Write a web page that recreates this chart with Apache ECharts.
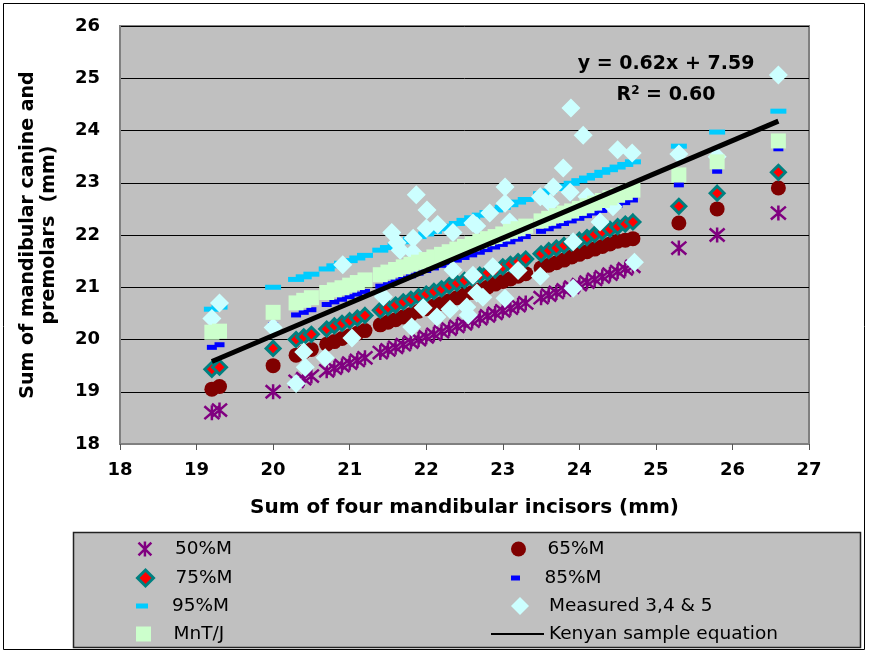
<!DOCTYPE html>
<html>
<head>
<meta charset="utf-8">
<script src="https://cdn.jsdelivr.net/npm/echarts@6/dist/echarts.min.js"></script>
<style>
html, body { margin: 0; padding: 0; background: #fff; }
#chart { width: 869px; height: 653px; }
</style>
</head>
<body>
<div id="chart"></div>
<script>
// sum of four mandibular incisors (mm), shared by the predicted series
const incisors = [19.2, 19.3, 20.0, 20.3, 20.4, 20.5, 20.7, 20.8, 20.9, 21.0, 21.1, 21.2, 21.4, 21.5, 21.6, 21.7,
    21.8, 21.9, 22.0, 22.1, 22.2, 22.3, 22.4, 22.5, 22.6, 22.7, 22.8, 22.9, 23.0, 23.1, 23.2, 23.3, 23.5, 23.6,
    23.7, 23.8, 23.9, 24.0, 24.1, 24.2, 24.3, 24.4, 24.5, 24.6, 24.7, 25.3, 25.8, 26.6]

const m50 = [18.60, 18.65, 19.00, 19.20, 19.25, 19.30, 19.40, 19.45, 19.50, 19.55, 19.60, 19.65, 19.75, 19.80, 19.85, 19.90,
    19.95, 20.00, 20.05, 20.10, 20.15, 20.20, 20.25, 20.30, 20.35, 20.40, 20.45, 20.50, 20.55, 20.60, 20.65, 20.70, 20.80, 20.85,
    20.90, 20.95, 21.00, 21.05, 21.10, 21.15, 21.20, 21.25, 21.30, 21.35, 21.40, 21.75, 22.00, 22.42]
const m65 = [19.05, 19.10, 19.50, 19.70, 19.76, 19.81, 19.91, 19.96, 20.02, 20.07, 20.12, 20.17, 20.28, 20.33, 20.38, 20.43,
    20.48, 20.54, 20.59, 20.64, 20.69, 20.74, 20.80, 20.85, 20.90, 20.95, 21.00, 21.06, 21.11, 21.16, 21.21, 21.26, 21.37, 21.42,
    21.47, 21.52, 21.58, 21.63, 21.68, 21.73, 21.78, 21.83, 21.88, 21.90, 21.93, 22.23, 22.50, 22.90]
const m75 = [19.43, 19.47, 19.83, 20.00, 20.05, 20.10, 20.20, 20.26, 20.31, 20.36, 20.41, 20.46, 20.56, 20.61, 20.66, 20.72,
    20.77, 20.82, 20.87, 20.92, 20.97, 21.03, 21.08, 21.13, 21.18, 21.23, 21.28, 21.33, 21.39, 21.44, 21.49, 21.54, 21.64, 21.70,
    21.75, 21.80, 21.85, 21.90, 21.95, 22.01, 22.06, 22.11, 22.16, 22.21, 22.25, 22.55, 22.80, 23.20]
const m85 = [19.85, 19.90, 20.28, 20.47, 20.52, 20.57, 20.67, 20.72, 20.77, 20.82, 20.87, 20.92, 21.02, 21.07, 21.12, 21.17,
    21.22, 21.27, 21.32, 21.37, 21.42, 21.47, 21.52, 21.57, 21.62, 21.67, 21.72, 21.77, 21.82, 21.87, 21.92, 21.97, 22.07, 22.12,
    22.17, 22.22, 22.27, 22.32, 22.37, 22.42, 22.47, 22.52, 22.57, 22.62, 22.67, 22.96, 23.22, 23.65]
const m95 = [20.58, 20.62, 21.00, 21.15, 21.20, 21.25, 21.35, 21.41, 21.46, 21.51, 21.56, 21.61, 21.71, 21.76, 21.81, 21.87,
    21.92, 21.97, 22.02, 22.07, 22.12, 22.17, 22.22, 22.28, 22.33, 22.38, 22.43, 22.48, 22.53, 22.58, 22.63, 22.68, 22.79, 22.84,
    22.89, 22.94, 22.99, 23.04, 23.09, 23.14, 23.20, 23.25, 23.30, 23.35, 23.40, 23.70, 23.97, 24.37]
const mntj = [20.14, 20.16, 20.52, 20.70, 20.75, 20.80, 20.90, 20.95, 20.99, 21.04, 21.09, 21.14, 21.24, 21.29, 21.34, 21.39,
    21.44, 21.48, 21.53, 21.58, 21.63, 21.68, 21.73, 21.78, 21.83, 21.88, 21.93, 21.97, 22.02, 22.07, 22.12, 22.17, 22.27, 22.32,
    22.37, 22.42, 22.46, 22.51, 22.56, 22.61, 22.66, 22.71, 22.76, 22.81, 22.86, 23.15, 23.40, 23.80]

// measured canine + premolars
const measuredX = [19.2, 19.3, 20.0, 20.3, 20.4, 20.42, 20.68, 21.03, 20.91, 21.55, 21.62, 21.66, 21.44, 21.87, 22.01, 22.0,
    22.15, 22.35, 21.83, 21.83, 22.61, 22.35, 21.96, 22.14, 22.31, 21.81, 22.53, 22.55, 22.66, 22.74, 23.03, 23.49, 23.92,
    23.2, 24.72, 22.66, 23.79, 23.89, 24.05, 24.5, 24.69, 23.03, 23.03, 22.83, 23.66, 23.88, 23.49, 23.62, 24.44, 24.1, 24.27,
    23.09, 23.92, 22.61, 22.87, 25.3, 25.8, 26.6]
const measuredY = [20.40, 20.70, 20.23, 19.16, 19.76, 19.47, 19.65, 20.03, 21.43, 22.05, 21.85, 21.71, 20.82, 22.77, 22.48, 22.13,
    22.20, 22.05, 21.67, 21.94, 22.23, 21.33, 20.61, 20.43, 20.58, 20.24, 20.62, 20.47, 20.89, 20.81, 20.79, 21.21, 20.98,
    21.32, 21.48, 22.17, 23.28, 24.43, 23.91, 23.63, 23.57, 22.92, 22.61, 22.42, 22.92, 22.82, 22.73, 22.61, 22.54, 22.73, 22.25,
    22.25, 21.87, 21.23, 21.39, 23.55, 23.50, 25.06]

// Kenyan sample equation end points
const trendX = [19.2, 26.6]
const trendY = [19.58, 24.18]

const xTicks = { min: 18, max: 27, step: 1 }
const yTicks = { min: 18, max: 26, step: 1 }

const pairs = (xs, ys) => xs.map((x, i) => [x, ys[i]])

const FONT = "DejaVu Sans"
const asterisk = "path://M1,1L13,13M13,1L1,13M7,0L7,14"
const diamondPath = "path://M5,0L10,5L5,10L0,5Z"
const squarePath = "path://M0,0L10,0L10,10L0,10Z"

const chart = echarts.init(document.getElementById("chart"), null, { renderer: "canvas" })

function legendAt(item, left, rowY, w, h) {
    return {
        data: [item],
        left: left,
        top: rowY - 10,
        padding: 0,
        itemWidth: w,
        itemHeight: h,
        selectedMode: false,
        textStyle: { fontFamily: FONT, fontSize: 18.5, color: "#000", lineHeight: 20 },
    }
}

const rows = [549, 578, 606, 634]

chart.setOption({
    animation: false,
    textStyle: { fontFamily: FONT },
    grid: {
        left: 120, top: 26, width: 689, height: 418,
        show: true, backgroundColor: "#c0c0c0", borderColor: "#808080", borderWidth: 2,
        containLabel: false, outerBoundsMode: "none",
    },
    xAxis: {
        type: "value",
        min: xTicks.min, max: xTicks.max, interval: xTicks.step,
        name: "Sum of four mandibular incisors (mm)",
        nameLocation: "middle", nameGap: 54,
        nameTextStyle: { fontFamily: FONT, fontWeight: "bold", fontSize: 20, color: "#000" },
        axisLine: { show: true, onZero: false, lineStyle: { color: "#808080", width: 2 } },
        axisTick: { show: true, length: 6, lineStyle: { color: "#555", width: 1 } },
        axisLabel: { margin: 17, fontFamily: FONT, fontWeight: "bold", fontSize: 18, color: "#000" },
        splitLine: { show: false },
    },
    yAxis: {
        type: "value",
        min: yTicks.min, max: yTicks.max, interval: yTicks.step,
        name: "Sum of mandibular canine and\npremolars  (mm)",
        nameLocation: "middle", nameGap: 60, nameRotate: 90,
        nameTextStyle: { fontFamily: FONT, fontWeight: "bold", fontSize: 19, color: "#000", lineHeight: 21 },
        axisLine: { show: true, onZero: false, lineStyle: { color: "#808080", width: 2 } },
        axisTick: { show: false },
        axisLabel: { margin: 20, fontFamily: FONT, fontWeight: "bold", fontSize: 18, color: "#000" },
        splitLine: { show: true, lineStyle: { color: "#000", width: 1 } },
    },
    legend: [
        legendAt({ name: "50%M", icon: asterisk, itemStyle: { borderWidth: 2.5 } }, 136, rows[0], 50, 15),
        legendAt({ name: "75%M", icon: diamondPath, itemStyle: { borderWidth: 3 } }, 136, rows[1], 50, 16),
        legendAt({ name: "95%M", icon: "path://M0,0L12,0L12,5L0,5Z" }, 136, rows[2], 50, 5),
        legendAt({ name: "MnT/J", icon: squarePath }, 136, rows[3], 50, 15),
        legendAt({ name: "65%M", icon: "circle" }, 511, rows[0], 48, 15),
        legendAt({ name: "85%M", icon: "path://M0,0L9,0L9,5L0,5Z" }, 511, rows[1], 48, 5),
        legendAt({ name: "Measured 3,4 & 5", icon: diamondPath }, 511, rows[2], 48, 18),
        legendAt({ name: "Kenyan sample equation", itemStyle: { color: "rgba(0,0,0,0)", borderWidth: 0 } }, 490, rows[3], 53, 14),
    ],
    graphic: [
        { type: "rect", z: -10, shape: { x: 3.5, y: 3.5, width: 861, height: 646 }, style: { fill: "#fff", stroke: "#000", lineWidth: 1 } },
        { type: "rect", z: 0, shape: { x: 73.5, y: 532.5, width: 787, height: 115 }, style: { fill: "#c0c0c0", stroke: "#222", lineWidth: 1.5 } },
        {
            type: "text", z: 100, x: 666, y: 64,
            style: { text: "y = 0.62x + 7.59", fontFamily: FONT, fontWeight: "bold", fontSize: 19, fill: "#000", align: "center", verticalAlign: "middle" },
        },
        {
            type: "text", z: 100, x: 666, y: 95,
            style: {
                text: "{a|R}{s|2}{a| = 0.60}", align: "center", verticalAlign: "middle",
                rich: {
                    a: { fontFamily: FONT, fontWeight: "bold", fontSize: 19, fill: "#000" },
                    s: { fontFamily: FONT, fontWeight: "bold", fontSize: 12, fill: "#000", verticalAlign: "top", padding: [0, 0, 8, 0] },
                },
            },
        },
    ],
    series: [
        {
            name: "50%M", type: "scatter", symbol: asterisk, symbolSize: 15,
            itemStyle: { color: "none", borderColor: "#800080", borderWidth: 2.5, opacity: 1 },
            data: pairs(incisors, m50),
        },
        {
            name: "65%M", type: "scatter", symbol: "circle", symbolSize: 15,
            itemStyle: { color: "#800000", opacity: 1 },
            data: pairs(incisors, m65),
        },
        {
            name: "75%M", type: "scatter", symbol: "diamond", symbolSize: 14,
            itemStyle: { color: "#ff0000", borderColor: "#008080", borderWidth: 3, opacity: 1 },
            data: pairs(incisors, m75),
        },
        {
            name: "85%M", type: "scatter", symbol: "rect", symbolSize: [10, 5],
            itemStyle: { color: "#0000ff", opacity: 1 },
            data: pairs(incisors, m85),
        },
        {
            name: "95%M", type: "scatter", symbol: "rect", symbolSize: [16, 5],
            itemStyle: { color: "#00ccff", opacity: 1 },
            data: pairs(incisors, m95),
        },
        {
            name: "Measured 3,4 & 5", type: "scatter", symbol: "diamond", symbolSize: 19,
            itemStyle: { color: "#ccffff", opacity: 1 },
            data: pairs(measuredX, measuredY),
        },
        {
            name: "MnT/J", type: "scatter", symbol: "rect", symbolSize: 15,
            itemStyle: { color: "#ccffcc", opacity: 1 },
            data: pairs(incisors, mntj),
        },
        {
            name: "Kenyan sample equation", type: "line", symbol: "none",
            lineStyle: { color: "#000", width: 5 },
            itemStyle: { color: "#000" },
            data: pairs(trendX, trendY),
            z: 5,
        },
    ],
})
</script>
</body>
</html>
